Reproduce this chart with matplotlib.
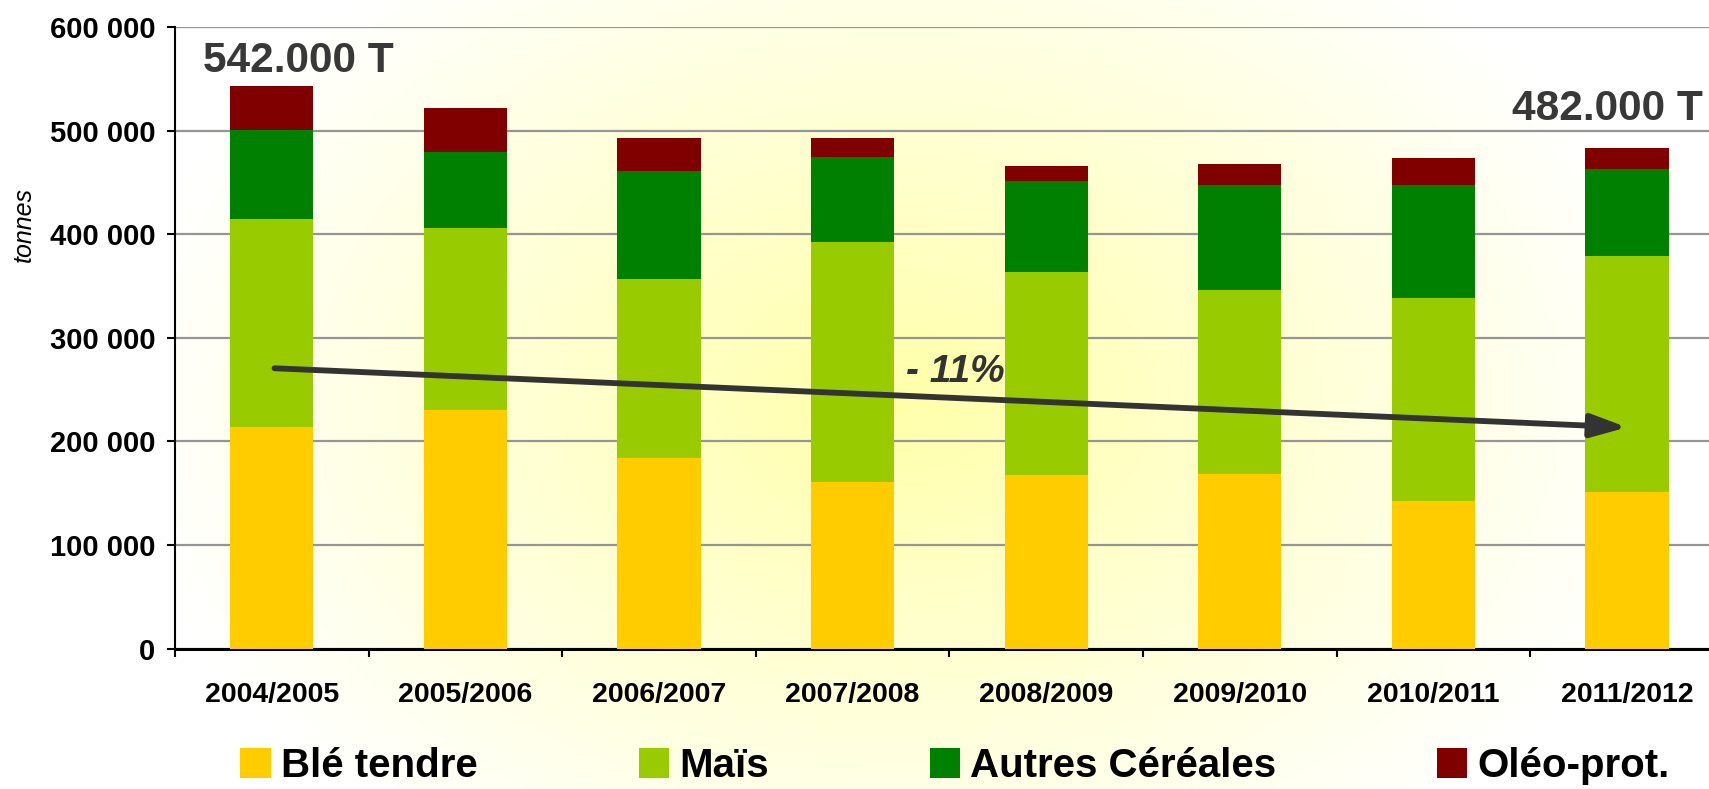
import numpy as np
import matplotlib
matplotlib.use('Agg')
import matplotlib.pyplot as plt
from matplotlib.ticker import FuncFormatter, MultipleLocator

plt.rcParams['font.family'] = ['Liberation Sans', 'DejaVu Sans']
plt.rcParams['font.weight'] = 'bold'

# data (tonnes)
campagnes = ['2004/2005', '2005/2006', '2006/2007', '2007/2008',
             '2008/2009', '2009/2010', '2010/2011', '2011/2012']
ble_tendre = [213500, 230000, 184000, 161000, 167000, 168500, 142000, 151500]
mais = [201500, 175500, 173000, 231000, 196500, 177500, 196000, 227500]
autres_cereales = [85500, 74000, 103500, 82000, 87500, 101000, 109000, 83500]
oleo_prot = [42500, 42500, 32500, 19000, 14500, 21000, 26500, 21000]

series = ['Blé tendre', 'Maïs', 'Autres Céréales', 'Oléo-prot.']
colors = ['#FFCC00', '#99CC00', '#008000', '#800000']

fig = plt.figure(figsize=(17.09, 7.89), dpi=100)

# soft yellow radial background behind the plot area
bg = fig.add_axes([175 / 1709, 0, 1 - 175 / 1709, 1], zorder=-5)
gx, gy = np.meshgrid(np.linspace(175, 1709, 400), np.linspace(0, 789, 200))
t = np.clip(np.sqrt(((gx - 900) / 780) ** 2 + ((gy - 400) / 560) ** 2), 0, 1)
img = np.ones((200, 400, 3))
img[..., 2] = (170 + 85 * t) / 255
bg.imshow(img, aspect='auto', extent=(0, 1, 0, 1), origin='upper')
bg.axis('off')

ax = fig.add_axes([175 / 1709, 140.5 / 789, 1534 / 1709, 621.6 / 789])
ax.set_facecolor('none')

x = np.arange(len(campagnes))
bottom = np.zeros(len(campagnes))
for name, vals, c in zip(series, [ble_tendre, mais, autres_cereales, oleo_prot], colors):
    ax.bar(x, vals, width=0.43, bottom=bottom, color=c, label=name, zorder=3)
    bottom += np.array(vals)

ax.yaxis.set_major_locator(MultipleLocator(100000))
ax.yaxis.set_major_formatter(FuncFormatter(lambda v, p: f'{int(v):,}'.replace(',', ' ')))
ax.grid(axis='y', color='#959595', linewidth=1.6, zorder=0)
ax.set_axisbelow(True)

ax.set_xticks(x)
ax.set_xticklabels(campagnes)
ax.set_xticks(np.arange(-0.5, len(campagnes) + 0.5, 1), minor=True)
ax.tick_params(axis='x', which='major', length=0, pad=24, labelsize=20.5)
ax.tick_params(axis='x', which='minor', length=6, width=1.5, color='black')
ax.tick_params(axis='y', length=6, width=1.5, pad=8, labelsize=21)

# limits after the ticks, so the minor ticks do not widen the view
ax.set_xlim(-0.5, -0.5 + 1534 / 193.6)
ax.set_ylim(0, 600000)

for s in ['top', 'right']:
    ax.spines[s].set_visible(False)
ax.spines['left'].set_linewidth(1.5)
ax.spines['bottom'].set_linewidth(2.2)

fig.text(24 / 1709, 1 - 225 / 789, 'tonnes', rotation=90, ha='center', va='center',
         fontsize=18, fontstyle='italic', fontweight='normal')

ax.text(-0.355, 556500, '542.000 T', ha='left', va='baseline', fontsize=30.5, color='#383838')
ax.text(7.393, 510000, '482.000 T', ha='right', va='baseline', fontsize=30.5, color='#383838')

ax.annotate('', xy=(7.0, 213500), xytext=(0.014, 270500),
            arrowprops=dict(arrowstyle='-|>,head_length=0.4,head_width=0.13',
                            color='#333333', lw=4.2, mutation_scale=54,
                            shrinkA=0, shrinkB=0), zorder=5)
ax.text(3.53, 257500, '- 11%', ha='center', va='baseline', fontsize=28,
        fontstyle='italic', color='#333333', zorder=5)

fig.legend(loc='center', bbox_to_anchor=(955 / 1709, 1 - 766 / 789), ncol=4,
           frameon=False, fontsize=29, handlelength=0.75, handleheight=0.75,
           handletextpad=0.25, columnspacing=4.0, borderpad=0, borderaxespad=0)

fig.savefig('out.png', dpi=100)
